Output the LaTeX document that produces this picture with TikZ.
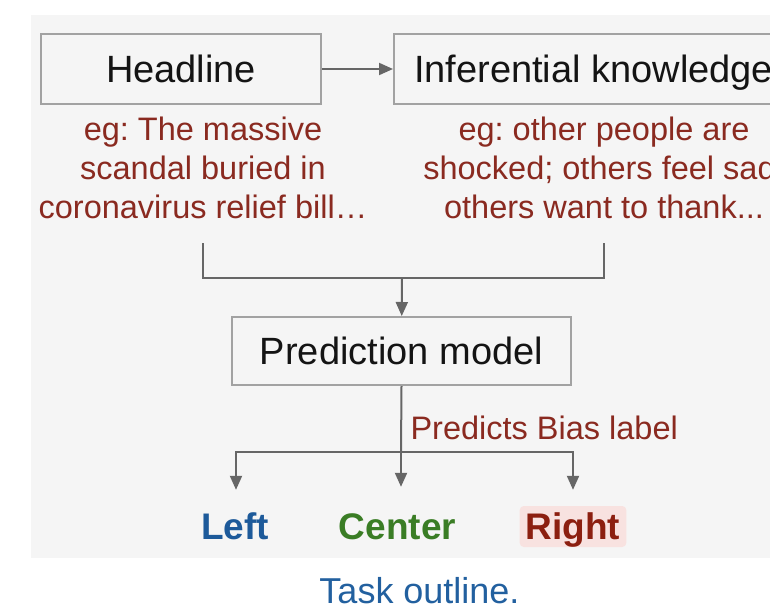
\documentclass[tikz,border=0pt]{standalone}
\usepackage{fontspec}
\setmainfont{Liberation Sans}
\usetikzlibrary{arrows.meta}
\frenchspacing
\definecolor{panel}{HTML}{F5F5F5}
\definecolor{boxline}{HTML}{A2A2A2}
\definecolor{linkgray}{HTML}{666666}
\definecolor{egred}{HTML}{8A2A20}
\definecolor{leftblue}{HTML}{1D5A9A}
\definecolor{centergreen}{HTML}{3A7D25}
\definecolor{rightred}{HTML}{8C1F10}
\definecolor{rightbg}{HTML}{F8E2E0}
\definecolor{capblue}{HTML}{22609F}
\tikzset{
	stagebox/.style={draw=boxline, line width=2pt, minimum height=70pt, text height=27.5pt, text depth=0pt, text=black!92, font=\fontsize{38}{46}\selectfont},
	egtext/.style={text=egred, align=center, inner sep=0pt, anchor=north, font=\fontsize{32.5}{39}\selectfont},
	link/.style={draw=linkgray, line width=2pt},
	arr/.style={link, -{Triangle[length=14pt, width=12pt]}},
	biaslbl/.style={font=\bfseries\fontsize{37}{44}\selectfont, text height=27pt, text depth=2pt, inner sep=6pt}
}
\begin{document}
		\begin{tikzpicture}[x=1pt, y=-1pt]
			\useasboundingbox (0,0) rectangle (770,604);
			\clip (0,0) rectangle (770,604);
			\fill [panel] (31,15) rectangle (780,558);
			\node [stagebox, minimum width=280pt] (headline) at (181,69) {Headline};
			\node [stagebox, anchor=west, inner xsep=20pt] (inferential) at (393,69) {Inferential knowledge};
			\draw [arr] (headline) -- (inferential);
			\node [egtext] (headex) at (203,117) {eg: The massive\\scandal buried in\\coronavirus relief bill…};
			\node [egtext] (infex) at (604,117) {eg: other people are\\shocked; others feel sad;\\others want to thank...};
			\coordinate (join) at (402,278);
			\draw [link] ([yshift=-24pt]headex.south) |- (join) -| ([yshift=-24pt]infex.south);
			\node [stagebox, minimum width=339pt, minimum height=68pt] (model) at (401.5,351) {Prediction model};
			\draw [arr] (join) -- (model);
			\coordinate (split) at (401,452);
			\draw [link] (model.south) -- node [right, xshift=5pt, pos=0.64, text=egred, font=\fontsize{32.5}{39}\selectfont] (predicts) {Predicts Bias label} (split);
			\node [biaslbl, text=leftblue] (left) at (235,526.5) {Left};
			\node [biaslbl, text=centergreen] (center) at (397.5,526.5) {Center};
			\node [biaslbl, text=rightred, fill=rightbg, rounded corners=4pt] (right) at (573,526.5) {Right};
			\draw [arr, shorten >=16pt] (split) -| (left.north -| 236,0);
			\draw [arr, shorten >=19pt] (split) -- (split |- center.north);
			\draw [arr, shorten >=16pt] (split) -| (right.north);
			\node [text=capblue, anchor=base, font=\fontsize{36}{43}\selectfont] (caption) at (419.5,603.5) {Task outline.};
		\end{tikzpicture}
\end{document}
